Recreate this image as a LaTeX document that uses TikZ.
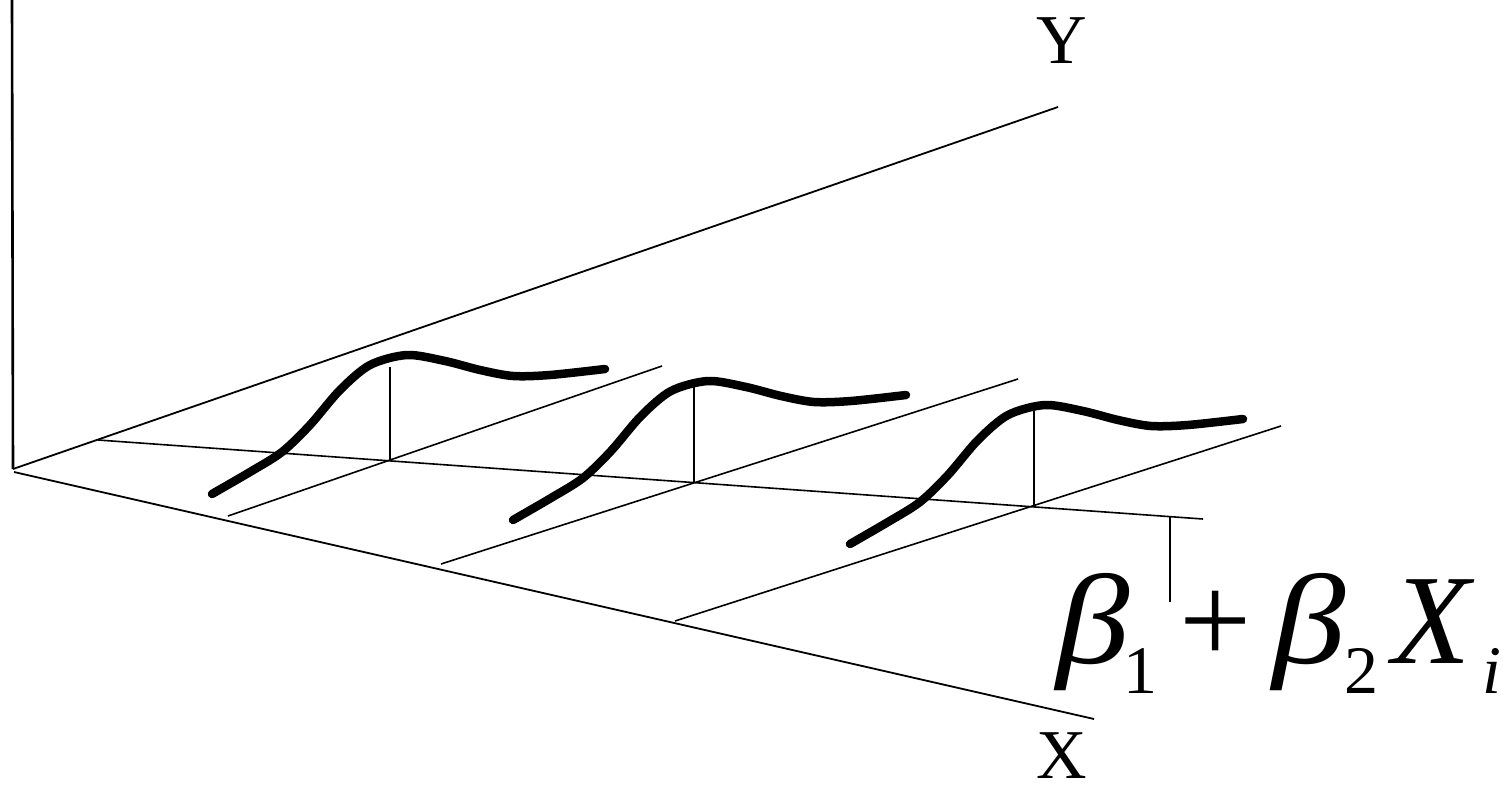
\documentclass[tikz,border=0pt]{standalone}
\usepackage{fontspec}
\setmainfont{Liberation Serif}
\usetikzlibrary{positioning,calc}

\newcommand{\wbeta}{\scalebox{1.15}[1]{\textit{β}}}
\newcommand{\lowsub}[1]{\raisebox{-30pt}{\fontsize{68}{68}\selectfont #1}}

\begin{document}
\begin{tikzpicture}[x=1pt, y=-1pt,
  axis/.style={line width=1.8pt, black},
  guide/.style={line width=1.6pt, black},
  dens/.style={line width=8.5pt, line cap=round, black},
  axlbl/.style={font=\fontsize{70}{70}\selectfont, inner sep=0pt, anchor=base},
  big/.style={font=\fontsize{128}{128}\selectfont, inner sep=0pt},
]
\useasboundingbox (0,0) rectangle (1503,786);

%% Axes
\coordinate (top) at (12,0);
\coordinate (o) at (13,469);
\coordinate (xo) at (14,472);
\coordinate (yend) at (1058,107);
\coordinate (xend) at (1094,719);
\draw[line width=2.6pt] (top) -- (o);
\draw[axis] (o) -- (yend);
\draw[axis] (xo) -- (xend);
\node[axlbl] (ylab) at (1062,64) {Y};
\node[axlbl] (xlab) at (1062,778) {X};

%% Regression line
\coordinate (r0) at (98,440);
\coordinate (r1) at (1203,519);
\draw[guide] (r0) -- (r1);

%% Lines at each X value
\coordinate (a1) at (228,516);  \coordinate (b1) at (662,366);
\coordinate (a2) at (441,564);  \coordinate (b2) at (1018,379);
\coordinate (a3) at (675,621);  \coordinate (b3) at (1281,426);
\draw[guide] (a1) -- (b1);
\draw[guide] (a2) -- (b2);
\draw[guide] (a3) -- (b3);

%% Mean markers
\coordinate (m1) at (390,461);  \coordinate (p1) at (390,367);
\coordinate (m2) at (694,482);  \coordinate (p2) at (694,387);
\coordinate (m3) at (1034,505); \coordinate (p3) at (1034,411);
\draw[guide] (m1) -- (p1);
\draw[guide] (m2) -- (p2);
\draw[guide] (m3) -- (p3);

%% Densities
\draw[dens, shift={(212,494)}] plot[smooth] coordinates {(0,0) (38,-22) (70,-42)
  (98,-69) (128,-104) (158,-129) (195,-139) (233,-133) (268,-124) (301,-118)
  (338,-119) (393,-125)};
\draw[dens, shift={(513,520)}] plot[smooth] coordinates {(0,0) (38,-22) (70,-42)
  (98,-69) (128,-104) (158,-129) (195,-139) (233,-133) (268,-124) (301,-118)
  (338,-119) (393,-125)};
\draw[dens, shift={(850,544)}] plot[smooth] coordinates {(0,0) (38,-22) (70,-42)
  (98,-69) (128,-104) (158,-129) (195,-139) (233,-133) (268,-124) (301,-118)
  (338,-119) (393,-125)};

%% Label of the line
\coordinate (t0) at (1170,517);
\coordinate (t1) at (1170,602);
\draw[guide] (t0) -- (t1);
\node[big, anchor=base west] (eq) at (1056,663) {%
  \wbeta\kern-6pt\lowsub{1}\kern22pt
  +\kern21pt\wbeta\kern-2pt\lowsub{2}\kern14pt
  \textit{X}\kern8pt\lowsub{\textit{i}}};

\end{tikzpicture}
\end{document}
